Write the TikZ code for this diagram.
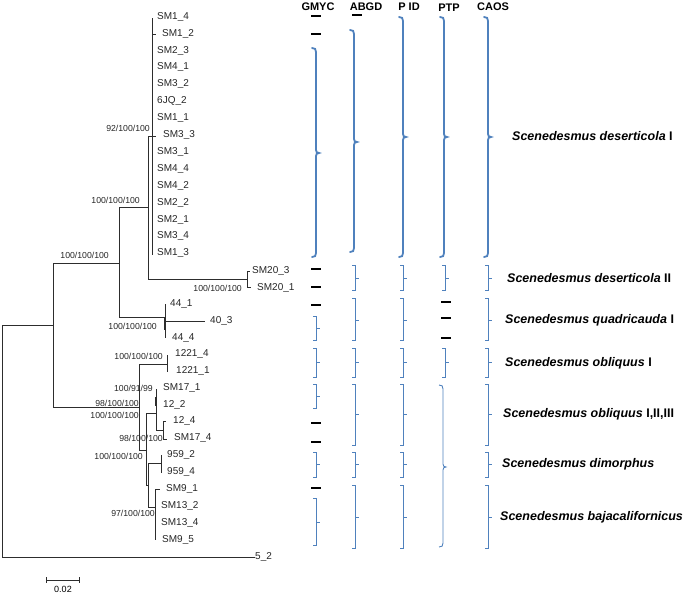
\documentclass[tikz,border=0pt]{standalone}
\usepackage{fontspec}
\setmainfont{Liberation Sans}
\definecolor{brblue}{RGB}{79,129,189}
\definecolor{treecol}{RGB}{45,45,45}
\newcommand{\mybrace}[5]{%
 \draw[#1] ({#2-4},#3) .. controls ({#2-1},#3) and (#2,{#3+1}) .. (#2,{#3+4}) -- (#2,{#4-3})
   .. controls (#2,{#4-1}) and ({#2+1},#4) .. ({#2+3},#4)
   .. controls ({#2+1},#4) and (#2,{#4+1}) .. (#2,{#4+3}) -- (#2,{#5-4})
   .. controls (#2,{#5-1}) and ({#2-1},#5) .. ({#2-4},#5);}
\newcommand{\mybrack}[4]{%
 \draw[smallbr] ({#1-3},#2) -- (#1,#2) -- (#1,#4) -- ({#1-3},#4);
 \draw[smallbr] (#1,#3) -- ({#1+4},#3);}
\tikzset{
 tree/.style={draw=treecol, line width=0.9pt},
 leaf/.style={anchor=west, inner sep=0pt, font=\fontsize{10}{12}\selectfont, text=black!85},
 supp/.style={anchor=east, inner sep=0pt, font=\fontsize{8.7}{10}\selectfont, text=black!85},
 head/.style={inner sep=0pt, font=\fontsize{11}{13}\selectfont\bfseries},
 species/.style={anchor=west, inner sep=0pt, font=\fontsize{12.5}{15}\selectfont\bfseries},
 bigbr/.style={draw=brblue, line width=1.8pt, line cap=round},
 thinbr/.style={draw=brblue, line width=0.9pt},
 smallbr/.style={draw=brblue, line width=0.8pt},
 dashmark/.style={draw=black, line width=1.7pt}
}
\begin{document}
\begin{tikzpicture}[x=1pt,y=-1pt]
\useasboundingbox (0,0) rectangle (685,595);
% leaves
\foreach \n/\lab/\x/\y in {a1/SM1\_4/157/17, a2/SM1\_2/162/34, a3/SM2\_3/157/51, a4/SM4\_1/157/67,
  a5/SM3\_2/157/84, a6/6JQ\_2/157/101, a7/SM1\_1/157/118, a8/SM3\_3/163/135, a9/SM3\_1/157/152,
  a10/SM4\_4/157/169, a11/SM4\_2/157/186, a12/SM2\_2/157/203, a13/SM2\_1/157/220, a14/SM3\_4/157/236,
  a15/SM1\_3/157/253, b1/SM20\_3/252/271, b2/SM20\_1/257/288, c1/44\_1/170/304, c2/40\_3/210/321,
  c3/44\_4/172/338, d1/1221\_4/175/354, d2/1221\_1/176/371, e1/SM17\_1/163/388, e2/12\_2/163/405,
  e3/12\_4/173/421, e4/SM17\_4/174/438, f1/959\_2/167/455, f2/959\_4/167/472, g1/SM9\_1/166/489,
  g2/SM13\_2/161/506, g3/SM13\_4/161/523, g4/SM9\_5/162/540, o1/5\_2/255/557}
  \node[leaf] (\n) at (\x,\y) {\lab};
% internal node coordinates
\coordinate (r0) at (2,325);
\coordinate (n1) at (53,263);
\coordinate (n2) at (119,207);
\coordinate (n3) at (148,136);
\coordinate (n4) at (152,18);
\coordinate (n5) at (247,271);
\coordinate (n6) at (165,304);
\coordinate (nA) at (139,364);
\coordinate (n12) at (167,355);
\coordinate (nB) at (146,413);
\coordinate (nC) at (156,389);
\coordinate (nE) at (163,421);
\coordinate (nD) at (148,463);
\coordinate (n95) at (161,455);
\coordinate (nS) at (155,489);
% tree branches
\draw[tree] (r0) -- (2,557) -- (o1.west);
\draw[tree] (r0) -- (53,325);
\draw[tree] (n1) -- (53,407) -- (139,407);
\draw[tree] (n1) -- (n2 |- n1);
\draw[tree] (n2) -- (119,317) -- (n6 |- 0,317);
\draw[tree] (n2) -- (148,207);
\draw[tree] (n3) -- (148,279) -- (247,279);
\draw[tree] (n3) -- (156,136);
\draw[tree] (n4) -- (152,255);
\draw[tree] (152,34) -- (156,34);
\draw[tree] (n5) -- (247,287) -- (251,287);
\draw[tree] (n5) -- (250,271);
\draw[tree] (n6) -- (165,338);
\draw[tree, line width=1.8pt] (165,317) -- (165,330);
\draw[tree] (165,321) -- (205,321);
\draw[tree] (nA) -- (139,450) -- (146,450);
\draw[tree] (nA) -- (167,364);
\draw[tree] (n12) -- (167,372);
\draw[tree] (nB) -- (146,485) -- (148,485);
\draw[tree] (nB) -- (156,413);
\draw[tree] (nC) -- (156,430) -- (163,430);
\draw[tree, line width=1.8pt] (156,397) -- (156,406);
\draw[tree] (nE) -- (163,439) -- (167,439);
\draw[tree] (nE) -- (166,421);
\draw[tree] (nD) -- (148,507) -- (155,507);
\draw[tree] (nD) -- (n95 |- nD);
\draw[tree] (n95) -- (161,473);
\draw[tree] (nS) -- (155,540);
\draw[tree] (nS) -- (160,489);
% support values
\node[supp] (s1) at (150,128) {92/100/100};
\node[supp] (s2) at (140,200) {100/100/100};
\node[supp] (s3) at (109,255) {100/100/100};
\node[supp] (s4) at (242,288) {100/100/100};
\node[supp] (s5) at (157,326) {100/100/100};
\node[supp] (s6) at (163,356) {100/100/100};
\node[supp] (s7) at (153,388) {100/91/99};
\node[supp] (s8) at (139,403) {98/100/100};
\node[supp] (s9) at (139,415) {100/100/100};
\node[supp] (s10) at (163,438) {98/100/100};
\node[supp] (s11) at (143,456) {100/100/100};
\node[supp] (s12) at (155,513) {97/100/100};
% scale bar
\coordinate (sb1) at (46,580);
\coordinate (sb2) at (79,580);
\draw[tree] (sb1) -- (sb2);
\draw[tree] (46,577) -- (46,583);
\draw[tree] (79,577) -- (79,583);
\node[inner sep=0pt, font=\fontsize{9}{11}\selectfont] (sbl) at (63,589) {0.02};
% headers
\node[head] (h1) at (318,7) {GMYC};
\node[head] (h2) at (366,7) {ABGD};
\node[head] (h3) at (409,7) {P ID};
\node[head] (h4) at (449,8) {PTP};
\node[head] (h5) at (493,7) {CAOS};
% big braces
\mybrace{bigbr}{316}{48}{153}{257}
\mybrace{bigbr}{354}{30}{142}{252}
\mybrace{bigbr}{403}{17}{137}{257}
\mybrace{bigbr}{444}{17}{137}{257}
\mybrace{bigbr}{488}{17}{137}{257}
\mybrace{thinbr}{443}{385}{467}{547}
% small brackets
\mybrack{316}{316}{328}{340}
\mybrack{316}{348}{362}{377}
\mybrack{316}{384}{396}{408}
\mybrack{316}{452}{464}{477}
\mybrack{316}{498}{522}{545}
\foreach \bx in {355,403,488}{
  \mybrack{\bx}{265}{278}{290}
  \mybrack{\bx}{298}{320}{340}
  \mybrack{\bx}{348}{362}{377}
  \mybrack{\bx}{384}{414}{445}
  \mybrack{\bx}{452}{464}{477}
  \mybrack{\bx}{485}{517}{548}
}
\mybrack{445}{265}{278}{290}
\mybrack{445}{348}{362}{377}
% dashes
\foreach \dy in {16,34,269,287,305,423,442,488} \draw[dashmark] (311,\dy) -- (321,\dy);
\draw[dashmark] (352,15) -- (362,15);
\foreach \dy in {302,318,338} \draw[dashmark] (441,\dy) -- (451,\dy);
% species
\node[species] (sp1) at (512,136) {\itshape Scenedesmus deserticola\upshape\ I};
\node[species] (sp2) at (507,278) {\itshape Scenedesmus deserticola\upshape\ II};
\node[species] (sp3) at (505,320) {\itshape Scenedesmus quadricauda\upshape\ I};
\node[species] (sp4) at (505,363) {\itshape Scenedesmus obliquus\upshape\ I};
\node[species] (sp5) at (503,414) {\itshape Scenedesmus obliquus\upshape\ I,II,III};
\node[species] (sp6) at (502,464) {\itshape Scenedesmus dimorphus};
\node[species] (sp7) at (500,517) {\itshape Scenedesmus bajacalifornicus};
\end{tikzpicture}
\end{document}
